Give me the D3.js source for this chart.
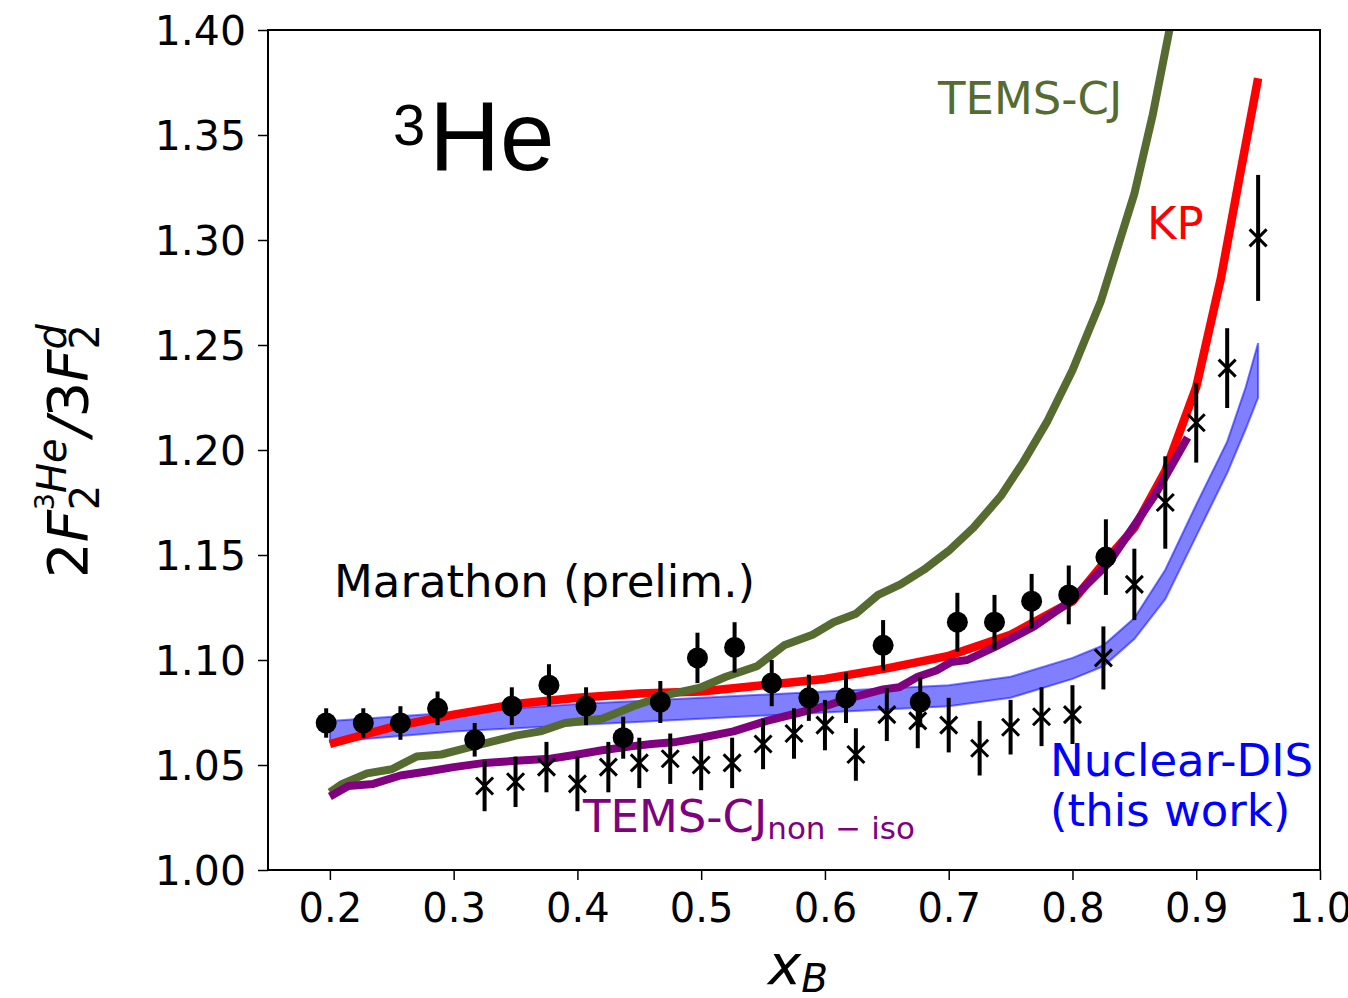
<!DOCTYPE html>
<html>
<head>
<meta charset="utf-8">
<script src="https://cdn.jsdelivr.net/npm/d3@7.9.0/dist/d3.min.js"></script>
<style>
  body { margin: 0; background: #fff; }
  svg text { font-family: 'DejaVu Sans', sans-serif; }
</style>
</head>
<body>
<svg id="chart" width="1348" height="998"></svg>
<script>
// Marathon preliminary (circles): x, ratio, error
const circX = [0.197, 0.227, 0.257, 0.287, 0.317, 0.347, 0.377, 0.407, 0.437, 0.467, 0.497,
  0.527, 0.557, 0.587, 0.617, 0.647, 0.677, 0.707, 0.737, 0.767, 0.797, 0.827];
const circY = [1.070, 1.070, 1.070, 1.077, 1.062, 1.078, 1.088, 1.078, 1.063, 1.080, 1.101,
  1.106, 1.089, 1.082, 1.082, 1.107, 1.080, 1.118, 1.118, 1.128, 1.131, 1.149];
const circErr = [0.007, 0.007, 0.008, 0.008, 0.008, 0.009, 0.010, 0.009, 0.010, 0.010, 0.012,
  0.012, 0.011, 0.011, 0.012, 0.012, 0.012, 0.014, 0.013, 0.013, 0.014, 0.018];

// second data set (crosses)
const crossX = [0.325, 0.35, 0.375, 0.40, 0.425, 0.45, 0.475, 0.50, 0.525, 0.55, 0.575, 0.60, 0.625,
  0.65, 0.675, 0.70, 0.725, 0.75, 0.775, 0.80, 0.825, 0.85, 0.875, 0.90, 0.925, 0.95];
const crossY = [1.040, 1.042, 1.049, 1.041, 1.049, 1.051, 1.053, 1.050, 1.051, 1.060, 1.065, 1.069, 1.055,
  1.074, 1.071, 1.069, 1.058, 1.068, 1.073, 1.074, 1.101, 1.136, 1.175, 1.213, 1.239, 1.301];
const crossErr = [0.012, 0.012, 0.012, 0.013, 0.012, 0.012, 0.012, 0.012, 0.012, 0.012, 0.012, 0.012, 0.0125,
  0.0126, 0.013, 0.013, 0.013, 0.013, 0.014, 0.014, 0.015, 0.017, 0.022, 0.019, 0.019, 0.030];

// KP curve
const kpX = [0.2, 0.25, 0.3, 0.35, 0.4, 0.45, 0.5, 0.55, 0.6, 0.65, 0.7, 0.75, 0.8, 0.825, 0.85,
  0.875, 0.9, 0.92, 0.935, 0.95];
const kpY = [1.060, 1.068, 1.074, 1.079, 1.082, 1.084, 1.085, 1.088, 1.091, 1.096, 1.102, 1.112, 1.128,
  1.146, 1.163, 1.190, 1.230, 1.282, 1.330, 1.377];

// TEMS-CJ curve
const temsX = [0.2, 0.21, 0.23, 0.25, 0.27, 0.29, 0.31, 0.33, 0.35, 0.37, 0.39, 0.42, 0.445, 0.47, 0.5,
  0.52, 0.545, 0.567, 0.59, 0.607, 0.625, 0.643, 0.661, 0.68, 0.70, 0.72, 0.742, 0.76, 0.78, 0.80,
  0.823, 0.85, 0.865, 0.88];
const temsY = [1.037, 1.041, 1.046, 1.048, 1.054, 1.055, 1.058, 1.061, 1.064, 1.066, 1.070, 1.072, 1.078,
  1.083, 1.087, 1.092, 1.097, 1.107, 1.112, 1.118, 1.122, 1.131, 1.136, 1.143, 1.152, 1.163, 1.178,
  1.194, 1.214, 1.238, 1.271, 1.322, 1.360, 1.405];

// TEMS-CJ non-iso curve
const nonIsoX = [0.2, 0.215, 0.235, 0.257, 0.28, 0.3, 0.325, 0.35, 0.378, 0.4, 0.42, 0.445, 0.46, 0.48,
  0.5, 0.526, 0.553, 0.58, 0.6, 0.621, 0.647, 0.66, 0.675, 0.69, 0.702, 0.715, 0.74, 0.769, 0.796,
  0.829, 0.866, 0.893];
const nonIsoY = [1.035, 1.040, 1.041, 1.045, 1.047, 1.049, 1.051, 1.052, 1.053, 1.055, 1.057, 1.059,
  1.060, 1.061, 1.063, 1.066, 1.071, 1.075, 1.078, 1.082, 1.086, 1.087, 1.092, 1.095, 1.099, 1.100,
  1.107, 1.116, 1.127, 1.146, 1.178, 1.206];

// Nuclear-DIS band
const bandX = [0.2, 0.3, 0.4, 0.5, 0.6, 0.7, 0.75, 0.8, 0.825, 0.85, 0.875, 0.9, 0.925, 0.94, 0.95];
const bandLo = [1.061, 1.066, 1.069, 1.072, 1.075, 1.078, 1.082, 1.091, 1.097, 1.110, 1.129, 1.159, 1.189,
  1.210, 1.225];
const bandHi = [1.071, 1.075, 1.079, 1.082, 1.085, 1.088, 1.092, 1.101, 1.107, 1.120, 1.143, 1.174, 1.204,
  1.230, 1.251];

const xTicks = [0.2, 0.3, 0.4, 0.5, 0.6, 0.7, 0.8, 0.9, 1.0];
const yTicks = [1.00, 1.05, 1.10, 1.15, 1.20, 1.25, 1.30, 1.35, 1.40];

const svg = d3.select('#chart');
const x = d3.scaleLinear().domain([0.15, 1.0]).range([268, 1320]);
const y = d3.scaleLinear().domain([1.0, 1.4]).range([870, 30]);

svg.append('clipPath').attr('id', 'plotclip')
  .append('rect').attr('x', 268).attr('y', 30).attr('width', 1052).attr('height', 840);

const plot = svg.append('g').attr('clip-path', 'url(#plotclip)');

// band
const area = d3.area().x((d) => x(d[0])).y0((d) => y(d[1])).y1((d) => y(d[2]));
plot.append('path')
  .attr('d', area(bandX.map((v, i) => [v, bandLo[i], bandHi[i]])))
  .attr('fill', '#0000ff').attr('fill-opacity', 0.5)
  .attr('stroke', '#0000ff').attr('stroke-opacity', 0.5).attr('stroke-width', 2);

const line = d3.line().x((d) => x(d[0])).y((d) => y(d[1]));
function curve(xs, ys, color, w) {
  plot.append('path')
    .attr('d', line(xs.map((v, i) => [v, ys[i]])))
    .attr('fill', 'none').attr('stroke', color).attr('stroke-width', w)
    .attr('stroke-linejoin', 'round');
}
curve(kpX, kpY, '#ff0000', 8.5);
curve(temsX, temsY, '#556b2f', 8);
curve(nonIsoX, nonIsoY, '#800080', 8);

// error bars + markers
const pts = plot.append('g');
crossX.forEach((v, i) => {
  pts.append('line')
    .attr('x1', x(v)).attr('x2', x(v))
    .attr('y1', y(crossY[i] - crossErr[i])).attr('y2', y(crossY[i] + crossErr[i]))
    .attr('stroke', '#000').attr('stroke-width', 4);
  const cx = x(v), cy = y(crossY[i]), s = 8.5;
  pts.append('path')
    .attr('d', `M${cx - s},${cy - s}L${cx + s},${cy + s}M${cx - s},${cy + s}L${cx + s},${cy - s}`)
    .attr('stroke', '#000').attr('stroke-width', 3);
});
circX.forEach((v, i) => {
  pts.append('line')
    .attr('x1', x(v)).attr('x2', x(v))
    .attr('y1', y(circY[i] - circErr[i])).attr('y2', y(circY[i] + circErr[i]))
    .attr('stroke', '#000').attr('stroke-width', 4);
  pts.append('circle').attr('cx', x(v)).attr('cy', y(circY[i])).attr('r', 10.5).attr('fill', '#000');
});

// axes
const yAxis = svg.append('g').attr('transform', 'translate(268,0)')
  .call(d3.axisLeft(y).tickValues(yTicks).tickFormat(d3.format('.2f')).tickSize(10).tickPadding(12));
const xAxis = svg.append('g').attr('transform', 'translate(0,870)')
  .call(d3.axisBottom(x).tickValues(xTicks).tickFormat(d3.format('.1f')).tickSize(10).tickPadding(10));
[yAxis, xAxis].forEach((a) => {
  a.select('.domain').remove();
  a.selectAll('line').attr('stroke', '#000').attr('stroke-width', 1.5);
  a.selectAll('text').attr('fill', '#000')
    .style('font-family', "'DejaVu Sans', sans-serif");
});
yAxis.selectAll('text').attr('font-size', 41).attr('dy', '0.36em');
xAxis.selectAll('text').attr('font-size', 40).attr('dy', '0.8em');

svg.append('rect').attr('x', 268).attr('y', 30).attr('width', 1052).attr('height', 840)
  .attr('fill', 'none').attr('stroke', '#000').attr('stroke-width', 2);

// annotations
const he = svg.append('text').attr('x', 393).attr('y', 170)
  .style('font-family', "'Liberation Sans', Arial, sans-serif").attr('fill', '#000');
he.append('tspan').attr('font-size', 58).attr('dy', -25).text('3');
he.append('tspan').attr('font-size', 98).attr('dy', 25).attr('dx', 4).text('He');

svg.append('text').attr('x', 938).attr('y', 114).attr('font-size', 45).attr('fill', '#556b2f').text('TEMS-CJ');
svg.append('text').attr('x', 1147).attr('y', 239).attr('font-size', 45).attr('fill', '#ff0000').text('KP');
svg.append('text').attr('x', 334).attr('y', 597).attr('font-size', 45).attr('fill', '#000').text('Marathon (prelim.)');
const ni = svg.append('text').attr('x', 583).attr('y', 832).attr('fill', '#800080');
ni.append('tspan').attr('font-size', 45).text('TEMS-CJ');
ni.append('tspan').attr('font-size', 31).attr('dy', 7).text('non \u2212 iso');
svg.append('text').attr('x', 1050).attr('y', 776).attr('font-size', 45).attr('fill', '#0000ff').text('Nuclear-DIS');
svg.append('text').attr('x', 1050).attr('y', 826).attr('font-size', 45).attr('fill', '#0000ff').text('(this work)');

// x label
const xl = svg.append('text').attr('x', 768).attr('y', 984).attr('fill', '#000');
xl.append('tspan').attr('font-size', 56).attr('font-style', 'italic').text('x');
xl.append('tspan').attr('font-size', 39).attr('font-style', 'italic').attr('dy', 8).text('B');

// y label: 2F_2^{3He}/3F_2^d, built piece by piece in a rotated frame
const yl = svg.append('g').attr('transform', 'translate(87,578) rotate(-90)');
let cur = 0;
function piece(t, size, italic, dy, advance = true) {
  const el = yl.append('text').attr('x', cur).attr('y', dy).attr('font-size', size)
    .attr('font-style', italic ? 'italic' : 'normal').attr('fill', '#000').text(t);
  const w = el.node().getComputedTextLength();
  if (advance) cur += w;
  return w;
}
piece('2', 56, false, 0);
piece('F', 56, true, 0);
let start = cur;
const wSub1 = piece('2', 40, false, 12, false);
cur = start;
piece('3', 27, false, -33);
piece('He', 40, true, -21);
cur = Math.max(cur, start + wSub1) + 2;
piece('/', 56, true, 0);
piece('3', 56, false, 0);
piece('F', 56, true, 0);
start = cur;
piece('2', 40, false, 12, false);
cur = start;
piece('d', 40, true, -21);
</script>
</body>
</html>
